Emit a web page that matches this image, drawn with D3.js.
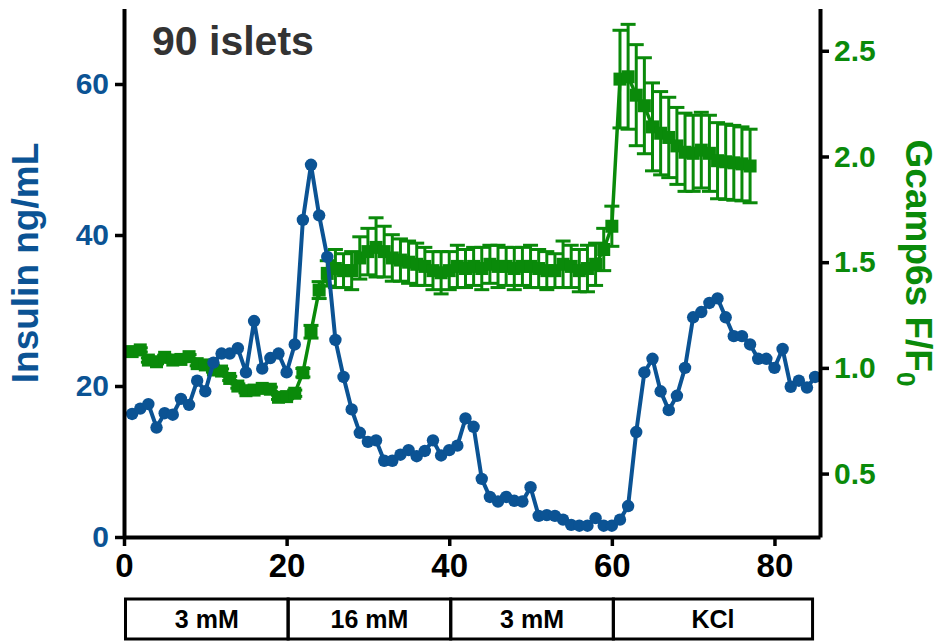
<!DOCTYPE html>
<html><head><meta charset="utf-8">
<script src="https://cdn.jsdelivr.net/npm/d3@7"></script>
<style>body{margin:0;background:#fff}svg{display:block}</style>
</head><body><svg id="c" width="940" height="642"></svg>
<script>
const insulinTime = d3.range(1, 86);
const insulin = [16.3,17.0,17.6,14.5,16.4,16.2,18.3,17.5,20.7,19.3,
  23.1,24.3,24.3,25.0,21.8,28.6,22.3,23.7,24.3,21.8,
  25.5,42.0,49.3,42.6,37.1,26.1,21.2,16.9,13.8,12.6,
  12.8,10.1,10.1,10.9,11.5,10.7,11.4,12.8,10.8,11.5,
  12.1,15.7,14.6,7.7,5.3,4.7,5.3,4.8,4.7,6.6,
  2.8,2.9,2.8,2.3,1.6,1.5,1.5,2.5,1.5,1.5,
  2.3,4.1,13.9,21.8,23.6,19.3,16.8,18.7,22.4,29.1,
  29.8,31.0,31.6,29.1,26.6,26.6,25.5,23.6,23.6,22.4,
  24.9,19.9,20.7,19.8,21.2];
const gcampTime = d3.range(1, 78);
const gcamp = [1.077,1.085,1.037,1.029,1.05,1.037,1.04,1.053,1.02,1.014,
  0.99,0.985,0.95,0.914,0.892,0.895,0.903,0.899,0.861,0.864,
  0.88,0.977,1.171,1.368,1.447,1.47,1.46,1.46,1.52,1.55,
  1.57,1.55,1.52,1.51,1.50,1.49,1.48,1.46,1.45,1.46,
  1.48,1.47,1.48,1.47,1.49,1.48,1.48,1.47,1.48,1.48,
  1.47,1.46,1.46,1.49,1.48,1.46,1.47,1.49,1.56,1.67,
  2.366,2.377,2.29,2.24,2.14,2.11,2.09,2.05,2.02,2.015,
  2.03,2.015,1.98,1.975,1.97,1.965,1.955];
const gcampErr = [0.01,0.01,0.01,0.01,0.01,0.01,0.01,0.01,0.01,0.01,
  0.01,0.01,0.01,0.01,0.01,0.01,0.01,0.01,0.01,0.01,
  0.015,0.02,0.03,0.04,0.06,0.09,0.08,0.09,0.10,0.11,
  0.14,0.12,0.11,0.10,0.10,0.10,0.09,0.09,0.10,0.09,
  0.10,0.09,0.09,0.10,0.09,0.10,0.09,0.10,0.09,0.10,
  0.09,0.09,0.08,0.11,0.10,0.10,0.11,0.10,0.10,0.095,
  0.231,0.248,0.239,0.227,0.208,0.197,0.19,0.182,0.185,0.18,
  0.179,0.18,0.18,0.178,0.177,0.175,0.174];
const xTicks = [0,20,40,60,80];
const yLeftTicks = [0,20,40,60];
const yRightTicks = [0.5,1.0,1.5,2.0,2.5];
const phases = ["3 mM","16 mM","3 mM","KCl"];
const phaseStart = [0,20,40,60];
const phaseEnd = [20,40,60,84.5];

const blue = "#0b5394", green = "#0a8a0a";
const svg = d3.select("#c");
const x = d3.scaleLinear().domain([0,85.6]).range([124,820]);
const yL = d3.scaleLinear().domain([0,70]).range([537,8.5]);
const yR = d3.scaleLinear().domain([0.2,2.7]).range([537,8.5]);
const F = "'Liberation Sans', Arial, sans-serif";

// green series
const gData = gcampTime.map((t,i)=>({t, v:gcamp[i], e:gcampErr[i]}));
const gG = svg.append("g");
gG.selectAll("line.eb").data(gData).enter().append("line")
  .attr("x1",d=>x(d.t)).attr("x2",d=>x(d.t))
  .attr("y1",d=>yR(d.v-d.e)).attr("y2",d=>yR(d.v+d.e))
  .attr("stroke",green).attr("stroke-width",3);
["top","bot"].forEach(k=>{
  gG.selectAll("line.cap"+k).data(gData).enter().append("line")
    .attr("x1",d=>x(d.t)-7.5).attr("x2",d=>x(d.t)+7.5)
    .attr("y1",d=>yR(k==="top"?d.v+d.e:d.v-d.e)).attr("y2",d=>yR(k==="top"?d.v+d.e:d.v-d.e))
    .attr("stroke",green).attr("stroke-width",3);
});
gG.append("path").datum(gData)
  .attr("d", d3.line().x(d=>x(d.t)).y(d=>yR(d.v)))
  .attr("fill","none").attr("stroke",green).attr("stroke-width",3.5);
gG.selectAll("rect").data(gData).enter().append("rect")
  .attr("x",d=>x(d.t)-6.5).attr("y",d=>yR(d.v)-6.5)
  .attr("width",13).attr("height",13).attr("fill",green);

// blue series
const bData = insulinTime.map((t,i)=>({t, v:insulin[i]}));
svg.append("path").datum(bData)
  .attr("d", d3.line().x(d=>x(d.t)).y(d=>yL(d.v)))
  .attr("fill","none").attr("stroke",blue).attr("stroke-width",4);
svg.selectAll("circle").data(bData).enter().append("circle")
  .attr("cx",d=>x(d.t)).attr("cy",d=>yL(d.v)).attr("r",6.2).attr("fill",blue);

// axes
function styleAxis(g, color, size, extra){
  g.select(".domain").attr("stroke","#000").attr("stroke-width",4);
  g.selectAll(".tick line").attr("stroke","#000").attr("stroke-width",3.5);
  const t = g.selectAll(".tick text").attr("fill",color).attr("font-size",size)
    .attr("font-weight","bold").attr("font-family",F);
  if (extra) extra(t);
}
const ax = svg.append("g").attr("transform","translate(0,537)")
  .call(d3.axisBottom(x).tickValues(xTicks).tickSize(9).tickSizeOuter(0).tickPadding(8).tickFormat(d3.format("d")));
styleAxis(ax,"#000",33);
const al = svg.append("g").attr("transform","translate(124,0)")
  .call(d3.axisLeft(yL).tickValues(yLeftTicks).tickSize(9).tickSizeOuter(0).tickPadding(6).tickFormat(d3.format("d")));
styleAxis(al,blue,30);
const ar = svg.append("g").attr("transform","translate(820,0)")
  .call(d3.axisRight(yR).tickValues(yRightTicks).tickSize(9).tickSizeOuter(0).tickPadding(5).tickFormat(d3.format(".1f")));
styleAxis(ar,green,30);

// labels
svg.append("text").attr("x",152).attr("y",55).text("90 islets")
  .attr("font-family",F).attr("font-weight","bold").attr("font-size",41).attr("fill","#333");
svg.append("text").attr("transform","translate(38,263) rotate(-90)").attr("text-anchor","middle")
  .text("Insulin ng/mL").attr("font-family",F).attr("font-weight","bold").attr("font-size",37).attr("fill",blue);
const rl = svg.append("text").attr("transform","translate(906,263) rotate(90)").attr("text-anchor","middle")
  .attr("font-family",F).attr("font-weight","bold").attr("font-size",37).attr("fill",green);
rl.append("tspan").text("Gcamp6s F/F");
rl.append("tspan").text("0").attr("font-size",26).attr("dy",9);

// phase boxes
const pb = svg.append("g");
phases.forEach((p,i)=>{
  pb.append("rect").attr("x",x(phaseStart[i])+1.5).attr("y",599)
    .attr("width",x(phaseEnd[i])-x(phaseStart[i])).attr("height",40)
    .attr("fill","none").attr("stroke","#000").attr("stroke-width",3);
  pb.append("text").attr("x",(x(phaseStart[i])+x(phaseEnd[i]))/2+1.5).attr("y",628)
    .attr("text-anchor","middle").text(p).attr("font-family",F)
    .attr("font-weight","bold").attr("font-size",25).attr("textLength", null);
});
</script></body></html>
